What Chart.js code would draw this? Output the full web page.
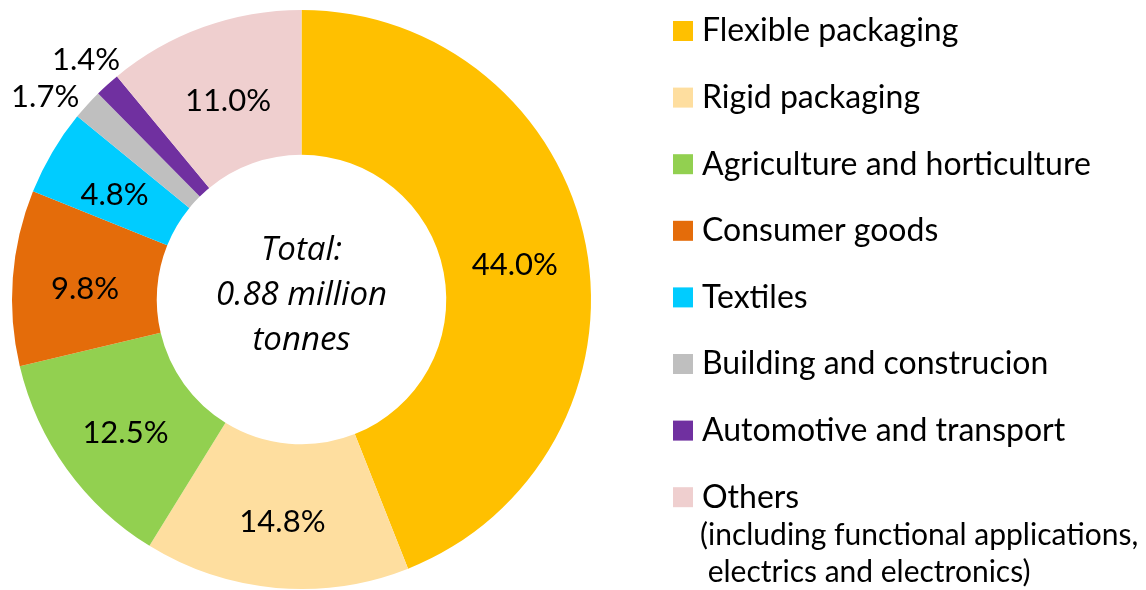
<!DOCTYPE html>
<html>
<head>
<meta charset="utf-8">
<script src="https://cdn.jsdelivr.net/npm/chart.js@4.4.1/dist/chart.umd.min.js"></script>
<style>
  html, body { margin: 0; padding: 0; background: #fff; }
</style>
</head>
<body>
<canvas id="end-use" width="1146" height="590"></canvas>
<script>
const FONT = 'Lato, "Open Sans", sans-serif'
const FONT_CENTER = '"Open Sans", Lato, sans-serif'

const categories = [
  'Flexible packaging',
  'Rigid packaging',
  'Agriculture and horticulture',
  'Consumer goods',
  'Textiles',
  'Building and construcion',
  'Automotive and transport',
  'Others',
]
const shares = [44.0, 14.8, 12.5, 9.8, 4.8, 1.7, 1.4, 11.0]
const colors = [
  '#FFC000',
  '#FEDE9F',
  '#92D050',
  '#E46C0A',
  '#00CCFF',
  '#BFBFBF',
  '#7030A0',
  '#EFCFCF',
]
const othersNote = ['(including functional applications,', ' electrics and electronics)']
const centerLines = ['Total:', '0.88 million', 'tonnes']

// slices smaller than this get their label outside the ring
const OUTSIDE_BELOW = 2

const sliceLabels = {
  id: 'sliceLabels',
  afterDatasetsDraw(chart) {
    const ctx = chart.ctx
    const meta = chart.getDatasetMeta(0)
    ctx.save()
    ctx.font = '31px ' + FONT
    ctx.fillStyle = '#000'
    ctx.textBaseline = 'middle'
    let prevBox = null
    meta.data.forEach((arc, i) => {
      const text = shares[i].toFixed(1) + '%'
      if (shares[i] >= OUTSIDE_BELOW) {
        const p = arc.tooltipPosition()
        ctx.textAlign = 'center'
        ctx.fillText(text, p.x, p.y + 6)
        return
      }
      // outside label: walk clockwise until it clears the previous one
      const r = arc.outerRadius + 11
      const half = 18
      let a = (arc.startAngle + arc.endAngle) / 2
      let x, y
      for (let k = 0; k < 60; k++) {
        x = arc.x + Math.cos(a) * r
        y = arc.y + Math.sin(a) * r
        if (!prevBox || y + half <= prevBox.top || y - half >= prevBox.bottom) break
        a += Math.PI / 360
      }
      prevBox = { top: y - half, bottom: y + half }
      ctx.textAlign = Math.cos(a) < 0 ? 'right' : 'left'
      ctx.fillText(text, x, y)
    })

    // total in the hole
    const c = meta.data[0]
    ctx.font = 'italic 33px ' + FONT_CENTER
    ctx.textAlign = 'center'
    centerLines.forEach((line, k) => {
      ctx.fillText(line, c.x, c.y - 49 + k * 45)
    })
    ctx.restore()
  },
}

const sideLegend = {
  id: 'sideLegend',
  afterDraw(chart) {
    const ctx = chart.ctx
    const left = 673
    const top = 31
    const step = 66.6
    ctx.save()
    ctx.font = '32px ' + FONT
    ctx.textBaseline = 'middle'
    ctx.textAlign = 'left'
    categories.forEach((name, i) => {
      const y = top + i * step
      ctx.fillStyle = colors[i]
      ctx.fillRect(left, y - 10, 20, 20)
      ctx.fillStyle = '#000'
      ctx.fillText(name, left + 29, y)
    })
    ctx.font = '30px ' + FONT
    const lastY = top + (categories.length - 1) * step
    othersNote.forEach((line, k) => {
      ctx.fillText(line, left + 27, lastY + 38 + k * 37)
    })
    ctx.restore()
  },
}

const chartEndUse = new Chart(document.getElementById('end-use').getContext('2d'), {
  type: 'doughnut',
  data: {
    labels: categories,
    datasets: [
      {
        data: shares,
        backgroundColor: colors,
        borderWidth: 0,
      },
    ],
  },
  options: {
    responsive: false,
    animation: false,
    events: [],
    cutout: '50%',
    layout: {
      padding: { left: 12, top: 10, bottom: 1, right: 555 },
    },
    plugins: {
      legend: { display: false },
      tooltip: { enabled: false },
    },
  },
  plugins: [sliceLabels, sideLegend],
})
</script>
</body>
</html>
